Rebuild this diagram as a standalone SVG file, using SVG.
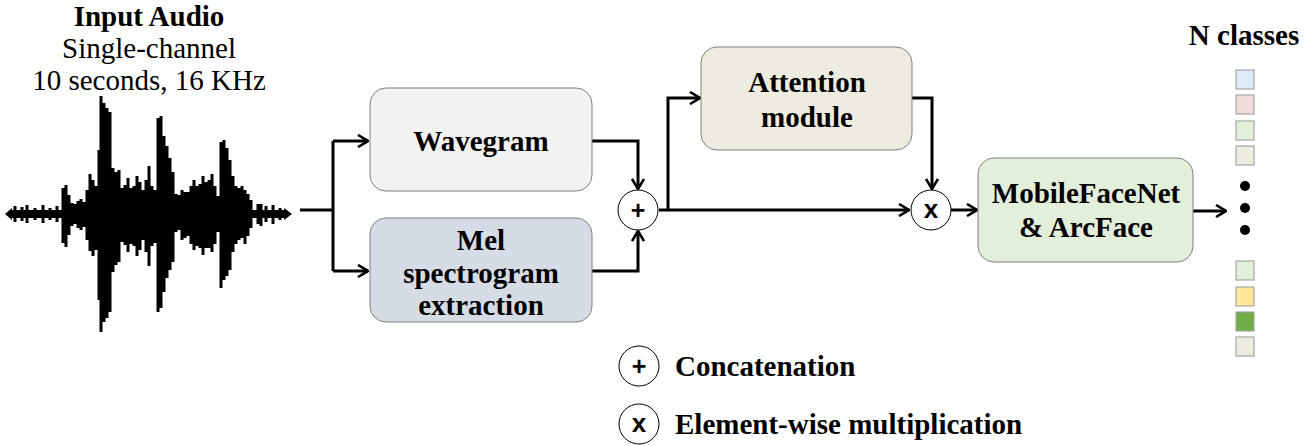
<svg xmlns="http://www.w3.org/2000/svg" width="1314" height="446" viewBox="0 0 1314 446">
<defs>
<marker id="arr" viewBox="0 0 12 14" refX="11" refY="7" markerWidth="12" markerHeight="14" markerUnits="userSpaceOnUse" orient="auto">
<path d="M1,1 L11,7 L1,13" fill="none" stroke="#000" stroke-width="2.6"/>
</marker>
</defs>
<style>
.t{font-family:"Liberation Serif","Times New Roman",serif;font-size:29px;text-anchor:middle;fill:#000}
.b{font-weight:bold}
.box{stroke:#7f7f7f;stroke-width:1}
.op{fill:#fff;stroke:#000;stroke-width:1}
.sym{font-family:"Liberation Sans",Arial,sans-serif;font-weight:bold;text-anchor:middle}
.plus{font-size:25px}
.times{font-size:26px}
.ln{fill:none;stroke:#000;stroke-width:3}
.sq{stroke:#a6a6a6;stroke-width:1.2}
.lg{font-family:"Liberation Serif","Times New Roman",serif;font-size:29px;font-weight:bold}
</style>
<rect width="1314" height="446" fill="#fff"/>

<g id="input">
<text class="t b" x="149" y="26">Input Audio</text>
<text class="t" x="149" y="58">Single-channel</text>
<text class="t" x="149" y="90">10 seconds, 16 KHz</text>
<g id="wave">
<rect x="10" y="210" width="276" height="8" fill="#000"/>
<path d="M5,214 L12,208 L12,220 Z M292,214 L284,208 L284,220 Z" fill="#000"/>
<path fill="none" stroke="#000" stroke-width="3" d="M15,206V222M22,207V221M27,205V223M35,208V220M43,205V223M50,208V220M57,206V222M63,188V243M66,185V247M69,195V235M72,203V226M75,204V224M78,201V228M81,199V230M84,202V227M87,190V240M90,174V251M93,180V256M96,186V250M99,150V300M101,96V332M104,103V322M107,108V318M110,112V312M113,168V272M116,172V265M119,170V262M122,188V242M125,185V245M128,178V252M131,188V244M134,186V246M137,176V256M140,182V250M143,190V240M146,180V252M149,166V266M152,186V246M155,190V243M158,118V312M161,116V308M164,136V292M167,146V278M170,158V270M173,172V262M176,194V232M179,195V230M182,190V240M185,192V238M188,192V236M191,186V244M194,180V250M197,186V246M200,184V248M203,176V255M206,182V248M209,180V248M212,174V252M215,186V244M218,196V232M221,142V288M224,140V280M227,148V276M230,160V270M233,176V252M236,186V244M239,188V240M242,186V238M245,190V244M248,194V236M251,200V228M258,204V224M261,204V226M266,206V222M273,205V224M280,208V220"/>
</g>
</g>

<g id="connectors">
<path class="ln" d="M300,210 H333 M333,141 V271"/>
<path class="ln" d="M333,141 H368" marker-end="url(#arr)"/>
<path class="ln" d="M333,271 H368" marker-end="url(#arr)"/>
<path class="ln" d="M592,141 H638 V189" marker-end="url(#arr)"/>
<path class="ln" d="M592,271 H638 V231" marker-end="url(#arr)"/>
<path class="ln" d="M659,210 H909" marker-end="url(#arr)"/>
<path class="ln" d="M668,210 V98 H700" marker-end="url(#arr)"/>
<path class="ln" d="M912,98 H932 V189" marker-end="url(#arr)"/>
<path class="ln" d="M951,210 H977" marker-end="url(#arr)"/>
<path class="ln" d="M1193,211 H1226" marker-end="url(#arr)"/>
</g>

<g id="wavegram">
<rect class="box" x="370" y="88" width="222" height="103" rx="16" fill="#f2f2f2"/>
<text class="t b" x="481" y="151">Wavegram</text>
</g>

<g id="mel">
<rect class="box" x="370" y="218" width="222" height="104" rx="16" fill="#d6dce5"/>
<text class="t b" x="481" y="250">Mel</text>
<text class="t b" x="481" y="283">spectrogram</text>
<text class="t b" x="481" y="315">extraction</text>
</g>

<g id="concat">
<circle class="op" cx="638" cy="210" r="20"/>
<text class="sym plus" x="638" y="219">+</text>
</g>

<g id="attention">
<rect class="box" x="701" y="47" width="211" height="103" rx="16" fill="#eeece1"/>
<text class="t b" x="807" y="92">Attention</text>
<text class="t b" x="807" y="127">module</text>
</g>

<g id="mult">
<circle class="op" cx="931" cy="210" r="20"/>
<text class="sym times" x="931" y="218">x</text>
</g>

<g id="mobilefacenet">
<rect class="box" x="978" y="158" width="215" height="104" rx="16" fill="#e2efda"/>
<text class="t b" x="1086" y="203">MobileFaceNet</text>
<text class="t b" x="1086" y="237">&amp; ArcFace</text>
</g>

<g id="classes">
<text class="t b" x="1244" y="45">N classes</text>
<rect class="sq" x="1236" y="70" width="18" height="19" fill="#deebf7"/>
<rect class="sq" x="1236" y="95" width="18" height="19" fill="#f2dcdb"/>
<rect class="sq" x="1236" y="121" width="18" height="19" fill="#e2efda"/>
<rect class="sq" x="1236" y="146" width="18" height="19" fill="#eeece1"/>
<circle cx="1245" cy="186" r="5" fill="#000"/>
<circle cx="1245" cy="208" r="5" fill="#000"/>
<circle cx="1245" cy="230" r="5" fill="#000"/>
<rect class="sq" x="1236" y="261" width="18" height="19" fill="#e2efda"/>
<rect class="sq" x="1236" y="287" width="18" height="19" fill="#ffe699"/>
<rect class="sq" x="1236" y="312" width="18" height="19" fill="#70ad47"/>
<rect class="sq" x="1236" y="337" width="18" height="19" fill="#eeece1"/>
</g>

<g id="legend">
<circle class="op" cx="639" cy="366" r="20"/>
<text class="sym plus" x="639" y="375">+</text>
<text class="lg" x="675" y="376">Concatenation</text>
<circle class="op" cx="639" cy="424" r="20"/>
<text class="sym times" x="639" y="432">x</text>
<text class="lg" x="675" y="434">Element-wise multiplication</text>
</g>
</svg>
